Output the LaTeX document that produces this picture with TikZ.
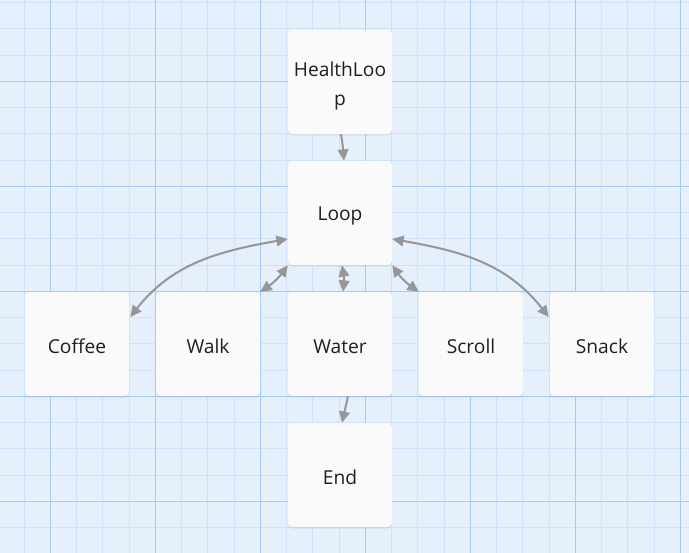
\documentclass[tikz,border=0pt]{standalone}
\usepackage{fontspec}
\setmainfont{Open Sans}
\usetikzlibrary{arrows.meta,calc}
\definecolor{bgblue}{RGB}{230,240,253}
\definecolor{minorline}{RGB}{207,226,251}
\definecolor{majorline}{RGB}{165,202,245}
\definecolor{boxfill}{RGB}{250,250,250}
\definecolor{edgegray}{RGB}{150,150,150}
\tikzset{
  card/.style={draw=none, fill=boxfill, rounded corners=3pt, minimum width=78pt, minimum height=78pt,
    inner sep=0pt},
  cardtext/.style={font=\fontsize{14.4}{22}\selectfont, text=black!88, align=center, yshift=-2pt, inner sep=0pt},
  conn/.style={draw=edgegray, line width=1.5pt, -{Triangle[length=8.5pt,width=8pt]}},
  conn2/.style={draw=edgegray, line width=1.5pt, {Triangle[length=8.5pt,width=8pt]}-{Triangle[length=8.5pt,width=8pt]}},
}
\begin{document}
\begin{tikzpicture}[x=0.75pt,y=-0.75pt]
\useasboundingbox (0,0) rectangle (689,553);
\fill[bgblue] (0,0) rectangle (689,553);
% minor grid
\foreach \i in {0,...,27} {
  \draw[minorline, line width=0.75pt] ({-2.2+26.25*\i},0) -- ({-2.2+26.25*\i},553);
}
\foreach \j in {0,...,21} {
  \draw[minorline, line width=0.75pt] (0,{2.55+26.25*\j}) -- (689,{2.55+26.25*\j});
}
% major grid
\foreach \i in {0,...,6} {
  \draw[majorline, line width=0.75pt] ({50.3+105*\i},0) -- ({50.3+105*\i},553);
}
\foreach \j in {0,...,4} {
  \draw[majorline, line width=0.75pt] (0,{81.3+105*\j}) -- (689,{81.3+105*\j});
}
% shadows
\foreach \cx/\cy in {340/82, 340/213, 77/344, 208/344, 340/344, 471/344, 602/344, 340/475} {
  \fill[black, opacity=0.07, rounded corners=3pt] ({\cx-52},{\cy-51}) rectangle ({\cx+52},{\cy+53.5});
}
% nodes
\node[card, label={[cardtext, yshift=-1pt]center:HealthLoo\\p}] (hl) at (340,82) {};
\node[card, label={[cardtext]center:Loop}] (loop) at (340,213) {};
\node[card, label={[cardtext]center:Coffee}] (coffee) at (77,344) {};
\node[card, label={[cardtext]center:Walk}] (walk) at (208,344) {};
\node[card, label={[cardtext]center:Water}] (water) at (340,344) {};
\node[card, label={[cardtext]center:Scroll}] (scroll) at (471,344) {};
\node[card, label={[cardtext]center:Snack}] (snack) at (602,344) {};
\node[card, label={[cardtext]center:End}] (end) at (340,475) {};
% connectors
\draw[conn] ($(hl.south)+(1,0)$) to[out=-80, in=95] ($(loop.north)+(4,0)$);
\draw[conn2] ($(loop.west)+(0,26)$) to[out=190, in=52] ($(coffee.east)+(1,-27)$);
\draw[conn2] ($(loop.east)+(0,26)$) to[out=-10, in=128] ($(snack.west)+(-1,-27)$);
\draw[conn2] (loop.south west) to[bend left=10] (walk.north east);
\draw[conn2] (loop.south east) to[bend right=10] (scroll.north west);
\draw[conn2] ($(loop.south)+(2,0)$) to[bend left=8] ($(water.north)+(3,0)$);
\draw[conn] ($(water.south)+(8,0)$) -- ($(end.north)+(2,0)$);
\end{tikzpicture}
\end{document}
